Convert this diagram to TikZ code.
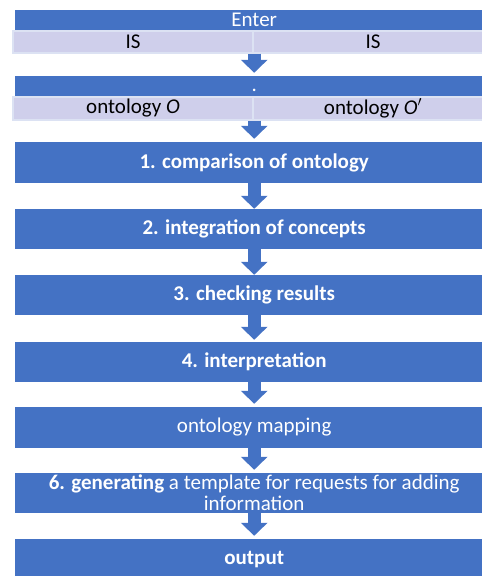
\documentclass[tikz,border=0pt]{standalone}
\usepackage{fontspec}
\setmainfont{Carlito}
\usetikzlibrary{arrows.meta}
\definecolor{flowblue}{HTML}{4472C4}
\definecolor{celllav}{HTML}{CFCFEB}
\definecolor{celledge}{HTML}{DCE2F3}
\begin{document}
\begin{tikzpicture}[x=1pt,y=1pt,
  bar/.style={fill=flowblue, text=white, minimum width=478pt, inner sep=0pt,
    anchor=west, font=\fontsize{21}{24}\selectfont},
  cell/.style={fill=celllav, draw=celledge, line width=1.2pt, text=black,
    minimum width=240pt, inner sep=0pt, font=\fontsize{21}{24}\selectfont},
  stepbox/.style={bar, minimum height=40pt},
  flow/.style={draw=flowblue, line width=13pt, -{Triangle[width=26pt,length=13pt]}}]
\useasboundingbox (0,0) rectangle (482,576);
\clip (0,0) rectangle (482,576);

% input table
\node[bar, minimum height=20pt] (enter) at (15,556) {Enter};
\node[cell, minimum height=22pt] (isL) at (133,534) {IS};
\node[cell, minimum height=22pt] (isR) at (373,534) {IS};

% ontology table
\node[bar, minimum height=21pt, text height=10pt, text depth=0pt] (head2) at (15,489.5) {.};
\node[cell, minimum height=23pt] (ontoL) at (133,467.5) {ontology \textit{O}};
\node[cell, minimum height=23pt] (ontoR) at (373,467.5) {ontology \textit{O}$^{\prime}$};

% processing steps
\node[stepbox, minimum height=41pt, font=\fontsize{21}{24}\selectfont\bfseries] (s1) at (15,413.5) {1. comparison of ontology};
\node[stepbox, font=\fontsize{21}{24}\selectfont\bfseries] (s2) at (15,347) {2. integration of concepts};
\node[stepbox, font=\fontsize{21}{24}\selectfont\bfseries] (s3) at (15,281) {3. checking results};
\node[stepbox, font=\fontsize{21}{24}\selectfont\bfseries] (s4) at (15,214) {4. interpretation};
\node[stepbox, minimum height=41pt] (s5) at (15,148.5) {ontology mapping};
\node[stepbox] (s6) at (15,83) {};
\node[text=white, align=center, inner sep=0pt, font=\fontsize{21}{21}\selectfont] (s6text) at (s6.center)
  {\textbf{6. generating} a template for requests for adding\\information};
\node[stepbox, minimum height=41pt, font=\fontsize{21}{24}\selectfont\bfseries] (out) at (15,16.5) {output};

% connectors
\draw[flow] (enter.south |- isL.south) -- ([yshift=3pt]head2.north);
\draw[flow] (head2.south |- ontoL.south) -- ([yshift=3pt]s1.north);
\draw[flow] (s1.south) -- (s2.north);
\draw[flow] (s2.south) -- (s3.north);
\draw[flow] (s3.south) -- ([yshift=2pt]s4.north);
\draw[flow] (s4.south) -- ([yshift=3pt]s5.north);
\draw[flow] (s5.south) -- ([yshift=3pt]s6.north);
\draw[flow] (s6.south) -- ([yshift=3pt]out.north);
\end{tikzpicture}
\end{document}
